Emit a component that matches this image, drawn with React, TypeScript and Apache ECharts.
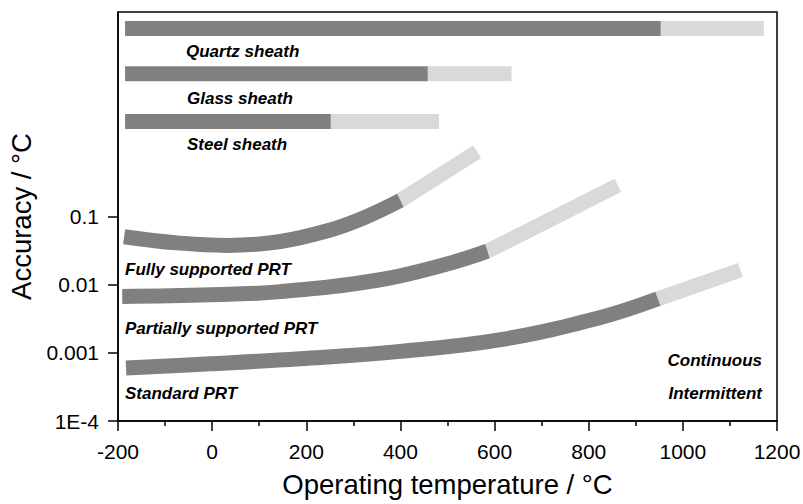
import React, { useEffect, useRef } from "react";
import * as echarts from "echarts";

// Top bars (sheaths): y level, start, continuous end, intermittent end
const sheathNames = ["Quartz sheath", "Glass sheath", "Steel sheath"];
const sheathLevel = [57.4, 12.4, 2.48];
const sheathStart = [-185, -185, -185];
const sheathContEnd = [953, 458, 252];
const sheathInterEnd = [1172, 636, 482];

// PRT curves (continuous part)
const fullyX = [-187, -75, 31, 145, 251, 322, 400];
const fullyY = [0.0505, 0.041, 0.0377, 0.043, 0.0634, 0.0953, 0.172];
const fullyInterX = [400, 563];
const fullyInterY = [0.172, 0.89];

const partialX = [-191, -4, 145, 357, 499, 585];
const partialY = [0.0067, 0.0071, 0.0079, 0.0118, 0.0201, 0.031];
const partialInterX = [585, 862];
const partialInterY = [0.031, 0.286];

const standardX = [-183, -4, 187, 400, 613, 825, 947];
const standardY = [0.0006, 0.00069, 0.00082, 0.00105, 0.00156, 0.0033, 0.0062];
const standardInterX = [947, 1122];
const standardInterY = [0.0062, 0.0164];

const yTickValues = [0.0001, 0.001, 0.01, 0.1];
const yTickLabels = ["1E-4", "0.001", "0.01", "0.1"];

const DARK = "#808080";
const LIGHT = "#d9d9d9";
const FONT = '"Liberation Sans", Arial, sans-serif';

const zip = (xs: number[], ys: number[]) => xs.map((x, i) => [x, ys[i]]);

export default function App() {
  const ref = useRef<HTMLDivElement>(null);
  useEffect(() => {
    if (!ref.current) return;
    const chart = echarts.init(ref.current, null, { renderer: "svg" });
    const lineBase = (data: number[][], color: string, smooth: boolean, z: number) => ({
      type: "line",
      data,
      showSymbol: false,
      symbol: "none",
      smooth: smooth ? 0.4 : false,
      lineStyle: { color, width: 15, cap: "butt", join: "round" },
      z,
      silent: true,
    });
    const series: any[] = [];
    sheathNames.forEach((_, i) => {
      series.push(
        lineBase(
          [
            [sheathContEnd[i], sheathLevel[i]],
            [sheathInterEnd[i], sheathLevel[i]],
          ],
          LIGHT,
          false,
          2
        )
      );
      series.push(
        lineBase(
          [
            [sheathStart[i], sheathLevel[i]],
            [sheathContEnd[i], sheathLevel[i]],
          ],
          DARK,
          false,
          3
        )
      );
    });
    series.push(lineBase(zip(fullyInterX, fullyInterY), LIGHT, false, 2));
    series.push(lineBase(zip(fullyX, fullyY), DARK, true, 3));
    series.push(lineBase(zip(partialInterX, partialInterY), LIGHT, false, 2));
    series.push(lineBase(zip(partialX, partialY), DARK, true, 3));
    series.push(lineBase(zip(standardInterX, standardInterY), LIGHT, false, 2));
    series.push(lineBase(zip(standardX, standardY), DARK, true, 3));

    const labelText = (text: string, x: number, y: number, align: string = "left") => ({
      type: "text",
      x,
      y,
      silent: true,
      style: {
        text,
        fill: "#000",
        fontSize: 17,
        fontWeight: "bold",
        fontStyle: "italic",
        fontFamily: FONT,
        align,
        verticalAlign: "middle",
      },
    });

    const option: any = {
      animation: false,
      grid: {
        left: 118,
        right: 26,
        top: 12,
        bottom: 83,
        show: true,
        borderColor: "#000",
        borderWidth: 1.5,
        backgroundColor: "transparent",
        containLabel: false,
        outerBoundsMode: "none",
      },
      xAxis: {
        type: "value",
        min: -200,
        max: 1200,
        interval: 200,
        name: "Operating temperature / °C",
        nameLocation: "middle",
        nameGap: 49,
        nameTextStyle: { fontSize: 27.5, fontFamily: FONT, color: "#000" },
        axisLine: { show: true, onZero: false, lineStyle: { color: "#000", width: 1.5 } },
        axisTick: { show: true, inside: false, length: 10, lineStyle: { color: "#000", width: 1.5 } },
        minorTick: { show: true, splitNumber: 2, length: 5, lineStyle: { color: "#000", width: 1.5 } },
        axisLabel: {
          fontSize: 21,
          fontFamily: FONT,
          color: "#000",
          margin: 20,
          formatter: (v: number) => String(v),
        },
        splitLine: { show: false },
        minorSplitLine: { show: false },
      },
      yAxis: {
        type: "log",
        logBase: 10,
        min: 0.0001,
        max: 100,
        name: "Accuracy / °C",
        nameLocation: "middle",
        nameGap: 81,
        nameTextStyle: { fontSize: 27.5, fontFamily: FONT, color: "#000" },
        axisLine: { show: true, onZero: false, lineStyle: { color: "#000", width: 1.5 } },
        axisTick: {
          show: true,
          inside: false,
          length: 10,
          customValues: yTickValues,
          lineStyle: { color: "#000", width: 1.5 },
        },
        axisLabel: {
          fontSize: 21,
          fontFamily: FONT,
          color: "#000",
          margin: 19,
          customValues: yTickValues,
          formatter: (v: number) => {
            const e = Math.round(Math.log10(v));
            const idx = yTickValues.findIndex((t) => Math.round(Math.log10(t)) === e);
            return idx >= 0 ? yTickLabels[idx] : "";
          },
        },
        splitLine: { show: false },
        minorTick: { show: false },
      },
      graphic: [
        labelText(sheathNames[0], 186, 51.5),
        labelText(sheathNames[1], 187, 98),
        labelText(sheathNames[2], 187, 144),
        labelText("Fully supported PRT", 125, 269),
        labelText("Partially supported PRT", 125, 328),
        labelText("Standard PRT", 125, 393),
        labelText("Continuous", 762, 360.5, "right"),
        labelText("Intermittent", 762, 393, "right"),
      ],
      series,
    };
    chart.setOption(option);
    return () => chart.dispose();
  }, []);
  return (
    <div
      ref={ref}
      style={{ position: "fixed", left: 0, top: 0, width: 803, height: 504, background: "#fff" }}
    />
  );
}
